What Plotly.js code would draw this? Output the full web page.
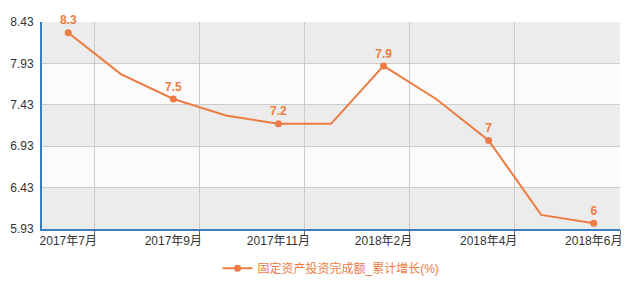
<!DOCTYPE html>
<html><head><meta charset="utf-8">
<script src="https://cdn.plot.ly/plotly-3.0.1.min.js"></script>
<style>html,body{margin:0;padding:0;background:#fff}#c{width:640px;height:286px}</style>
</head><body><div id="c"></div>
<script>
const categories = ['2017年7月','2017年8月','2017年9月','2017年10月','2017年11月','2017年12月','2018年2月','2018年3月','2018年4月','2018年5月','2018年6月'];
const values = [8.3, 7.8, 7.5, 7.3, 7.2, 7.2, 7.9, 7.5, 7.0, 6.1, 6.0];
const labeled = [true,false,true,false,true,false,true,false,true,false,true];
const yTicks = [5.93, 6.43, 6.93, 7.43, 7.93, 8.43];
const seriesName = '固定资产投资完成额_累计增长(%)';

const orange = '#ec7c43';
const font = 'Arial, "Liberation Sans", "Noto Sans CJK SC", sans-serif';

const xLabelVals = categories.filter((c,i)=>labeled[i]);
const boundaryVals = categories.map((c,i)=>i+0.5).filter((v,i)=>labeled[i]);

const trace = {
  x: categories, y: values, type: 'scatter', mode: 'lines+markers+text',
  name: seriesName,
  line: {color: orange, width: 2},
  marker: {color: values.map((v,i)=>labeled[i]?orange:'rgba(0,0,0,0)'), size: 7},
  text: values.map((v,i)=>labeled[i]?String(v):''),
  textposition: 'top center',
  textfont: {color: orange, size: 12, family: font, weight: 'bold'},
  cliponaxis: false, hoverinfo: 'skip'
};

// helper trace so the boundary grid axis (x2) is drawn
const gridTrace = {
  x: boundaryVals, y: boundaryVals.map(()=>null), xaxis: 'x2', yaxis: 'y',
  type: 'scatter', mode: 'lines', showlegend: false, hoverinfo: 'skip'
};

const shapes = [];
for (let i = 0; i < yTicks.length-1; i++) {
  shapes.push({type:'rect', xref:'paper', yref:'y', x0:0, x1:1, y0:yTicks[i], y1:yTicks[i+1],
    fillcolor: (i%2===0)?'#ececec':'#fbfbfb', line:{width:0}, layer:'below'});
}

const layout = {
  width: 640, height: 286,
  margin: {l: 42, r: 20, t: 22, b: 57},
  paper_bgcolor: '#ffffff', plot_bgcolor: '#ffffff',
  font: {family: font, size: 12, color: '#333'},
  showlegend: true,
  legend: {orientation: 'h', x: 0.5, xanchor: 'center', xref: 'paper',
    yref: 'container', y: 0.062, yanchor: 'middle',
    font: {color: orange, size: 12, family: font}},
  xaxis: {type: 'category', range: [-0.5, categories.length-0.5], tickmode: 'array',
    tickvals: xLabelVals, ticktext: xLabelVals, showgrid: false, ticks: '',
    showline: true, linecolor: '#3b7dc4', linewidth: 2, zeroline: false,
    tickfont: {size: 12, color: '#333'}, fixedrange: true},
  xaxis2: {overlaying: 'x', anchor: 'y', side: 'bottom', type: 'linear', range: [-0.5, categories.length-0.5],
    tickmode: 'array', tickvals: boundaryVals, showticklabels: false,
    ticks: 'outside', ticklen: 5, tickcolor: '#666', showgrid: true, gridcolor: '#cccccc',
    gridwidth: 1, zeroline: false, showline: false, fixedrange: true},
  yaxis: {range: [yTicks[0], yTicks[yTicks.length-1]], tickmode: 'array', tickvals: yTicks,
    ticktext: yTicks.map(v=>v.toFixed(2)), showgrid: true, gridcolor: '#cccccc',
    zeroline: false, showline: true, linecolor: '#3b7dc4', linewidth: 2, ticks: '',
    ticklabelstandoff: 4, tickfont: {size: 12, color: '#333'}, fixedrange: true},
  shapes: shapes
};

Plotly.newPlot('c', [gridTrace, trace], layout, {displayModeBar: false, staticPlot: true});
</script>
</body></html>
